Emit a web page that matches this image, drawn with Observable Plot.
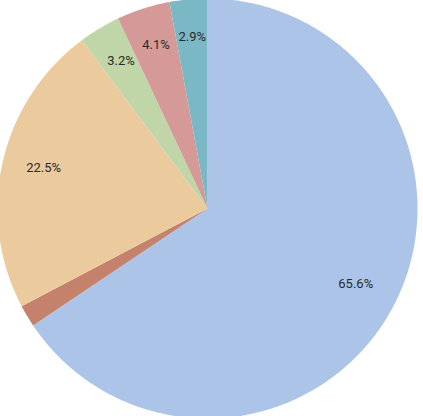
<!DOCTYPE html>
<html>
<head>
<meta charset="utf-8">
<script src="https://cdn.jsdelivr.net/npm/d3@7"></script>
<script src="https://cdn.jsdelivr.net/npm/@observablehq/plot@0.6"></script>
<style>
  html, body { margin: 0; padding: 0; background: #fff; }
  #chart { width: 423px; height: 416px; overflow: hidden; }
</style>
</head>
<body>
<div id="chart"></div>
<script>
// Slice data, clockwise from 12 o'clock
const categories = ["A", "B", "C", "D", "E", "F"];
const values = [65.6, 1.7, 22.5, 3.2, 4.1, 2.9];
const colors = ["#abc4e8", "#c4826c", "#ebcb9e", "#c0d5a8", "#d59a98", "#7ab8c6"];
const labelMin = 2; // slices below this get no label

const W = 423, H = 416;
const cx = 207, cy = 208, R = 210; // pixel layout of the pie

const pie = d3.pie().sort(null).value(d => d.value);
const arcs = pie(categories.map((c, i) => ({category: c, value: values[i]})));

// Outline polygons (unit circle, y up), one per slice
const outline = [];
for (const a of arcs) {
  const n = Math.max(2, Math.ceil((a.endAngle - a.startAngle) / 0.01));
  outline.push({category: a.data.category, x: 0, y: 0});
  for (let k = 0; k <= n; k++) {
    const t = a.startAngle + (a.endAngle - a.startAngle) * k / n;
    outline.push({category: a.data.category, x: Math.sin(t), y: Math.cos(t)});
  }
  outline.push({category: a.data.category, x: 0, y: 0});
}

const labelR = 0.8;
const labels = arcs.filter(a => a.data.value >= labelMin).map(a => {
  const m = (a.startAngle + a.endAngle) / 2;
  return {x: labelR * Math.sin(m), y: labelR * Math.cos(m), text: a.data.value.toFixed(1) + "%"};
});

const plot = Plot.plot({
  width: W,
  height: H,
  margin: 0,
  style: {fontFamily: "Roboto, sans-serif", background: "#fff"},
  x: {domain: [-cx / R, (W - cx) / R], axis: null},
  y: {domain: [-(H - cy) / R, cy / R], axis: null},
  color: {domain: categories, range: colors},
  marks: [
    Plot.line(outline, {x: "x", y: "y", z: "category", fill: "category", stroke: "none"}),
    Plot.text(labels, {x: "x", y: "y", text: "text", fontSize: 13, dy: -4, fill: "#2a2a2a"})
  ]
});
document.getElementById("chart").appendChild(plot);
</script>
</body>
</html>
